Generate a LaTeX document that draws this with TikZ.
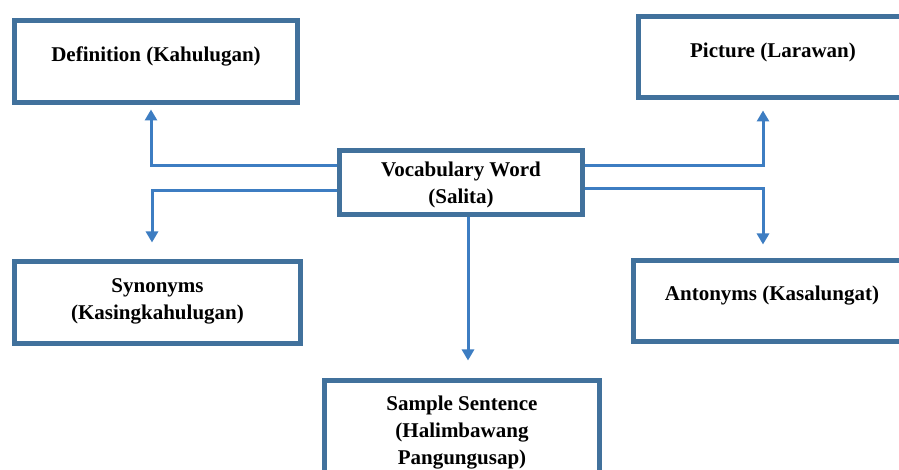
\documentclass[tikz,border=0pt]{standalone}
\usepackage{fontspec}
\setmainfont{Liberation Serif}
\usetikzlibrary{arrows.meta,positioning}
\definecolor{boxblue}{HTML}{41719C}
\definecolor{linkblue}{HTML}{3D7DC2}

\begin{document}
\begin{tikzpicture}[x=1pt,y=1pt,
    wordbox/.style={draw=boxblue, line width=5pt, fill=white, align=center,
      inner sep=0pt, font=\fontsize{21}{27}\selectfont\bfseries},
    link/.style={draw=linkblue, line width=3pt, -{Triangle[width=12pt,length=11pt]}}]
    % Page frame
    \path[use as bounding box, clip] (0,0) rectangle (899,470);
    \fill[white] (0,0) rectangle (899,470);

    % Centre box
    \node[wordbox, minimum width=243pt, minimum height=64pt, text depth=0pt] (voc) at (461,287.5) {Vocabulary Word\\(Salita)};

    % Outer boxes
    \node[wordbox, minimum width=283pt, minimum height=82pt, text height=14pt, text depth=14pt] (def) at (156,408.5) {Definition (Kahulugan)};
    \node[wordbox, minimum width=269pt, minimum height=81pt, text height=14pt, text depth=13pt] (pic) at (773,413) {Picture (Larawan)};
    \node[wordbox, minimum width=286pt, minimum height=82pt, text depth=7pt] (syn) at (157.5,167.5) {Synonyms\\(Kasingkahulugan)};
    \node[wordbox, minimum width=277pt, minimum height=81pt, text height=14pt, text depth=15pt] (ant) at (772,169) {Antonyms (Kasalungat)};
    \node[wordbox, minimum width=275pt, minimum height=120pt, text depth=21pt] (sam) at (462,29.5) {Sample Sentence\\(Halimbawang\\Pangungusap)};

    % Connectors
    \draw[link, shorten >=4.5pt] ([yshift=16.5pt]voc.west) -| ([xshift=-5pt]def.south);
    \draw[link, shorten >=16.5pt] ([yshift=-8.5pt]voc.west) -| ([xshift=-5.5pt]syn.north);
    \draw[link, shorten >=10.5pt] ([yshift=16.5pt]voc.east) -| ([xshift=-10pt]pic.south);
    \draw[link, shorten >=13.5pt] ([yshift=-6.5pt]voc.east) -| ([xshift=-9pt]ant.north);
    \draw[link, shorten >=17.5pt] ([xshift=7pt]voc.south) -- ([xshift=6pt]sam.north);

\end{tikzpicture}
\end{document}
